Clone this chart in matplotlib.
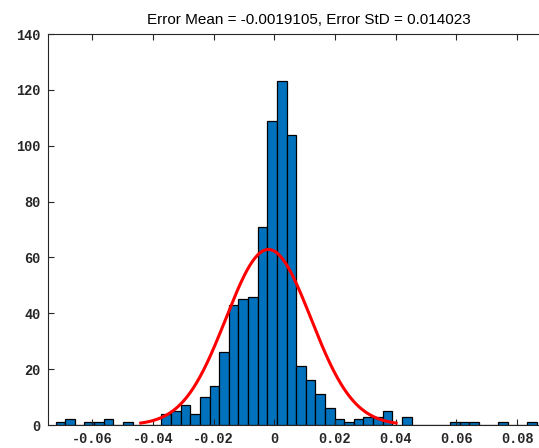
import numpy as np
import matplotlib.pyplot as plt

# histogram counts (50 bins)
counts = [1, 2, 0, 1, 1, 2, 0, 1, 0, 0,
          0, 4, 5, 7, 4, 10, 14, 26, 43, 45,
          46, 71, 109, 123, 104, 21, 16, 11, 6, 2,
          1, 2, 3, 3, 5, 0, 3, 0, 0, 0,
          0, 1, 1, 1, 0, 0, 1, 0, 0, 1]
bin_left = -0.07203
bin_width = 0.00317

err_mean = -0.0019105
err_std = 0.014023

xticks = [-0.06, -0.04, -0.02, 0, 0.02, 0.04, 0.06, 0.08]
xticklabels = ['-0.06', '-0.04', '-0.02', '0', '0.02', '0.04', '0.06', '0.08']
yticks = [0, 20, 40, 60, 80, 100, 120, 140]

lefts = bin_left + bin_width * np.arange(len(counts))
n_total = sum(counts)

# fitted normal curve over mean +/- 3 std (like histfit)
xs = np.linspace(err_mean - 3 * err_std, err_mean + 3 * err_std, 200)
ys = n_total * bin_width * np.exp(-0.5 * ((xs - err_mean) / err_std) ** 2) / (np.sqrt(2 * np.pi) * err_std)

W, H = 539, 448
fig = plt.figure(figsize=(W / 100, H / 100), dpi=100)
ax_l, ax_r, ax_t, ax_b = 47.5, 570, 34, 425
ax = fig.add_axes([ax_l / W, (H - ax_b) / H, (ax_r - ax_l) / W, (ax_b - ax_t) / H])

ax.bar(lefts, counts, width=bin_width, align='edge', color='#0072BD',
       edgecolor='black', linewidth=0.9)
ax.plot(xs, ys, color='red', linewidth=2.2)

ax.set_xlim(-0.0747, -0.0747 + (ax_r - ax_l) / 60.7 * 0.02)
ax.set_ylim(0, 140)

dark = '#262626'
for s in ['left', 'top', 'bottom']:
    ax.spines[s].set_color(dark)
    ax.spines[s].set_linewidth(0.8)
ax.spines['right'].set_visible(False)

ax.set_xticks(xticks)
ax.set_xticklabels(xticklabels)
ax.set_yticks(yticks)
ax.tick_params(axis='x', direction='in', top=True, length=4, width=0.8, color=dark, pad=5)
ax.tick_params(axis='y', direction='in', right=False, length=4, width=0.8, color=dark, pad=5)
for lab in ax.get_xticklabels() + ax.get_yticklabels():
    lab.set_fontfamily('Liberation Mono')
    lab.set_fontweight('bold')
    lab.set_fontsize(9.8)
    lab.set_color(dark)

ax.set_title('Error Mean = -0.0019105, Error StD = 0.014023',
             fontfamily='Liberation Sans', fontsize=11, pad=7)

fig.savefig('out.png', dpi=100)
